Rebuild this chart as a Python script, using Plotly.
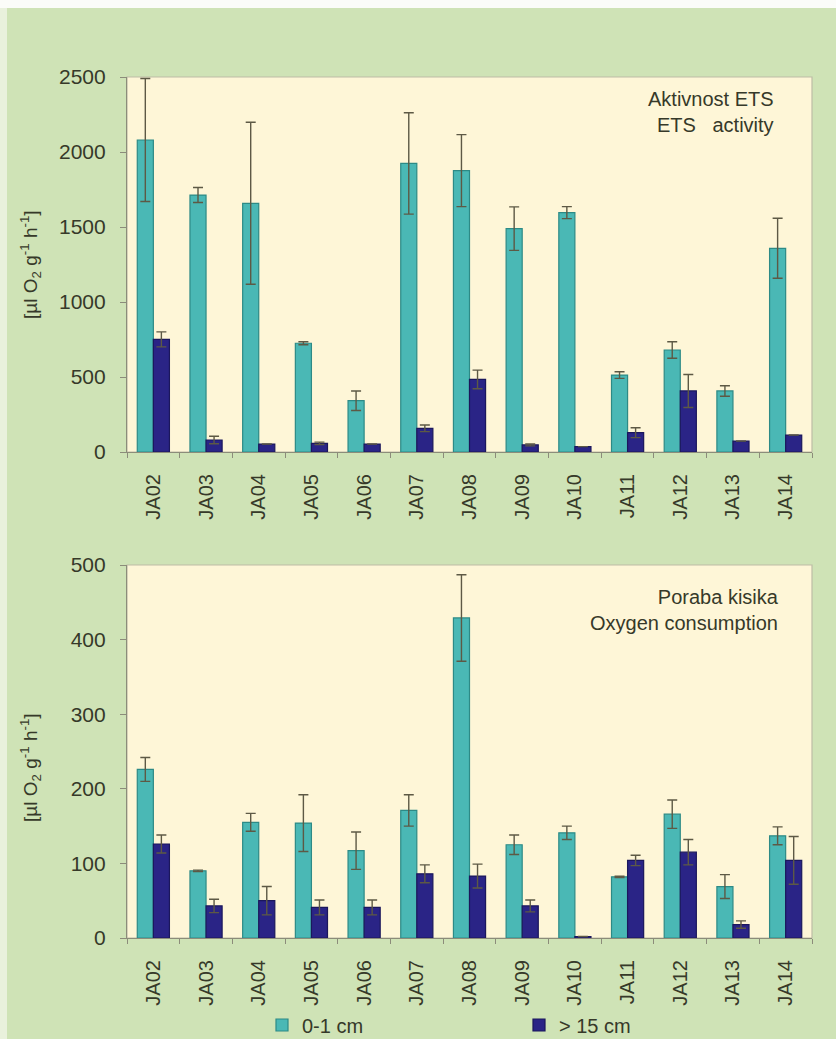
import plotly.graph_objects as go

# Sampling sites
sites = ["JA02", "JA03", "JA04", "JA05", "JA06", "JA07", "JA08",
         "JA09", "JA10", "JA11", "JA12", "JA13", "JA14"]

# ETS activity [µl O2 g-1 h-1]
ets_surface = [2080, 1713, 1658, 725, 342, 1924, 1876, 1489, 1596, 513, 680, 407, 1358]
ets_surface_err = [410, 50, 540, 10, 65, 338, 240, 145, 40, 22, 55, 35, 200]
ets_deep = [751, 80, 53, 58, 53, 158, 484, 47, 36, 129, 407, 73, 113]
ets_deep_err = [50, 25, 0, 8, 0, 22, 62, 6, 0, 33, 110, 0, 0]

# Oxygen consumption [µl O2 g-1 h-1]
oxy_surface = [226, 90, 155, 154, 117, 171, 429, 125, 141, 82, 166, 69, 137]
oxy_surface_err = [16, 1, 12, 38, 25, 21, 58, 13, 9, 1, 19, 16, 12]
oxy_deep = [126, 43, 50, 41, 41, 86, 83, 43, 2, 104, 115, 18, 104]
oxy_deep_err = [12, 9, 19, 10, 10, 12, 16, 8, 0, 7, 17, 5, 32]

series_names = ["0-1 cm", "> 15 cm"]

TEAL = "#4ab8b5"
TEAL_EDGE = "#2d8a86"
NAVY = "#2a2486"
NAVY_EDGE = "#1b175c"
ERR = "#5d5945"
TEXT = "#363929"
FONT = "Liberation Sans, Arial, sans-serif"

W, H = 836, 1039
ML, MR, MT, MB = 127, 24, 77, 101
PW, PH = W - ML - MR, H - MT - MB


def px_x(x):
    return (x - ML) / PW


def px_y(y):
    return (H - MB - y) / PH


fig = go.Figure()


def add_bars(vals, errs, name, color, edge, xa, ya, legend, show):
    fig.add_trace(go.Bar(
        x=sites, y=vals, name=name,
        marker=dict(color=color, line=dict(color=edge, width=1.2)),
        error_y=dict(type="data", array=errs, visible=True,
                     color=ERR, thickness=1.4, width=5),
        xaxis=xa, yaxis=ya, legend=legend, showlegend=show,
    ))


add_bars(ets_surface, ets_surface_err, series_names[0], TEAL, TEAL_EDGE, "x", "y", "legend", True)
add_bars(ets_deep, ets_deep_err, series_names[1], NAVY, NAVY_EDGE, "x", "y", "legend2", True)
add_bars(oxy_surface, oxy_surface_err, series_names[0], TEAL, TEAL_EDGE, "x2", "y2", "legend", False)
add_bars(oxy_deep, oxy_deep_err, series_names[1], NAVY, NAVY_EDGE, "x2", "y2", "legend2", False)

top_dom = [px_y(452), 1.0]
bot_dom = [0.0, px_y(565)]

xcommon = dict(
    type="category", showline=True, linecolor="#8c8c7a", linewidth=1.2,
    ticks="outside", tickson="boundaries", ticklen=5, tickcolor="#8c8c7a",
    tickangle=-90, tickfont=dict(family=FONT, size=20, color=TEXT),
    ticklabelstandoff=13, showgrid=False, zeroline=False,
)
ycommon = dict(
    showline=True, linecolor="#8c8c7a", linewidth=1.2,
    ticks="outside", ticklen=6, tickcolor="#8c8c7a",
    tickfont=dict(family=FONT, size=21, color=TEXT),
    ticklabelstandoff=10, showgrid=False, zeroline=False,
)

legend_font = dict(family=FONT, size=20, color=TEXT)

fig.update_layout(
    width=W, height=H,
    margin=dict(l=ML, r=MR, t=MT, b=MB, pad=0, autoexpand=False),
    paper_bgcolor="#cfe3b6",
    plot_bgcolor="#fef6d7",
    barmode="group", bargap=0.39, bargroupgap=0.0,
    xaxis=dict(xcommon, domain=[0, 1], anchor="y"),
    yaxis=dict(ycommon, domain=top_dom, anchor="x", range=[0, 2500], dtick=500),
    xaxis2=dict(xcommon, domain=[0, 1], anchor="y2"),
    yaxis2=dict(ycommon, domain=bot_dom, anchor="x2", range=[0, 500], dtick=100),
    legend=dict(orientation="h", x=px_x(262), y=px_y(1025), xanchor="left", yanchor="middle",
                bgcolor="rgba(0,0,0,0)", font=legend_font),
    legend2=dict(orientation="h", x=px_x(519), y=px_y(1025), xanchor="left", yanchor="middle",
                 bgcolor="rgba(0,0,0,0)", font=legend_font),
    showlegend=True,
)

# light frame around each plotting area
for xr, yr in (("x domain", "y domain"), ("x2 domain", "y2 domain")):
    fig.add_shape(type="rect", xref=xr, yref=yr, x0=0, x1=1, y0=0, y1=1,
                  line=dict(color="#bdbca6", width=1.2), layer="below")

# pale page edges
fig.add_shape(type="rect", xref="paper", yref="paper",
              x0=px_x(-5), x1=px_x(W + 5), y0=px_y(8), y1=px_y(-5),
              fillcolor="#fbfcf8", line=dict(width=0), layer="below")
fig.add_shape(type="rect", xref="paper", yref="paper",
              x0=px_x(-5), x1=px_x(7), y0=px_y(H + 5), y1=px_y(8),
              fillcolor="#e9f1dc", line=dict(width=0), layer="below")

unit = "[µl O<sub>2</sub> g<sup>-1</sup> h<sup>-1</sup>]"
for yc in (265, 768):
    fig.add_annotation(text=unit, xref="paper", yref="paper",
                       x=px_x(30), y=px_y(yc), xanchor="center", yanchor="middle",
                       textangle=-90, showarrow=False,
                       font=dict(family=FONT, size=19, color=TEXT))

fig.add_annotation(text="Aktivnost ETS<br>ETS\u00a0\u00a0\u00a0activity",
                   xref="paper", yref="paper", x=px_x(776), y=px_y(86),
                   xanchor="right", yanchor="top", align="right", showarrow=False,
                   font=dict(family=FONT, size=20, color=TEXT))
fig.add_annotation(text="Poraba kisika<br>Oxygen consumption",
                   xref="paper", yref="paper", x=px_x(781), y=px_y(584),
                   xanchor="right", yanchor="top", align="right", showarrow=False,
                   font=dict(family=FONT, size=20, color=TEXT))

fig.write_html("out.html")
